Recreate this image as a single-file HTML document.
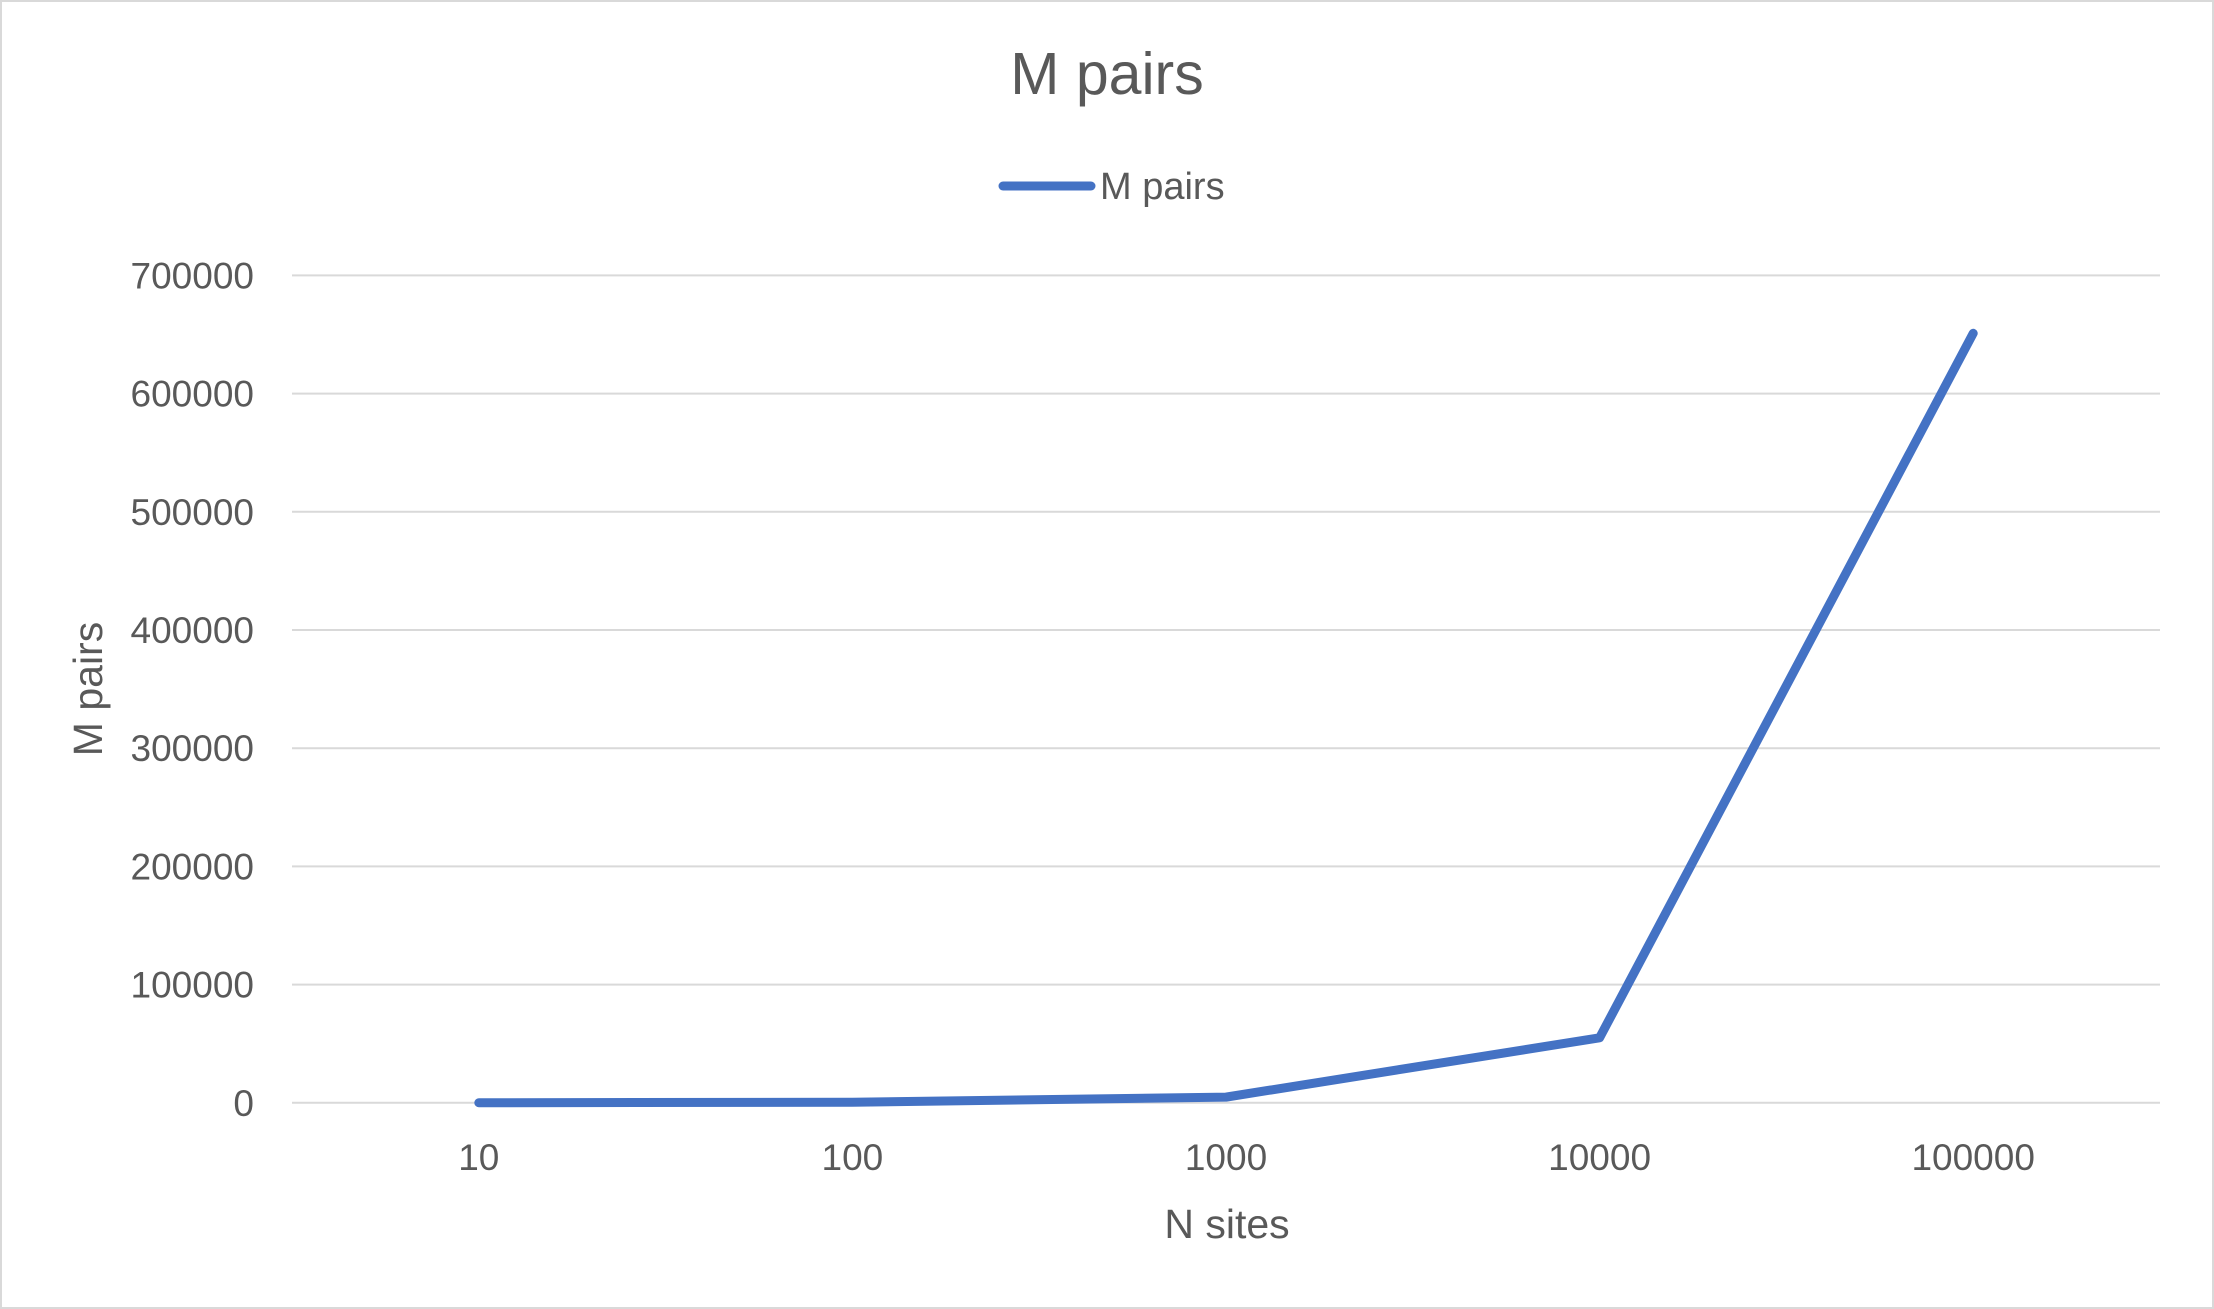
<!DOCTYPE html>
<html>
<head>
<meta charset="utf-8">
<style>
  html,body{margin:0;padding:0;background:#fff;}
  svg{display:block;font-family:"Liberation Sans",sans-serif;}
</style>
</head>
<body>
<svg id="chart" width="2214" height="1309" viewBox="0 0 2214 1309">
  <rect x="1" y="1" width="2212" height="1307" fill="#fff" stroke="#d9d9d9" stroke-width="2"/>
  <text x="1107" y="94" text-anchor="middle" font-size="59" fill="#595959">M pairs</text>
  <g>
    <line x1="1003" y1="186" x2="1091" y2="186" stroke="#4472c4" stroke-width="9" stroke-linecap="round"/>
    <text x="1100" y="199" font-size="38" fill="#595959">M pairs</text>
  </g>
  <g id="grid"></g>
  <g id="yticks"></g>
  <g id="xticks"></g>
  <text transform="translate(102,689) rotate(-90)" text-anchor="middle" font-size="41" fill="#595959">M pairs</text>
  <text x="1227" y="1238" text-anchor="middle" font-size="41" fill="#595959">N sites</text>
  <g id="series"></g>
</svg>
<script>
const categories = ["10","100","1000","10000","100000"];
const seriesValues = [50, 500, 4800, 55000, 651000];
const yTickValues = [0,100000,200000,300000,400000,500000,600000,700000];

const NS = "http://www.w3.org/2000/svg";
const plotLeft = 292, plotRight = 2160, yTop = 275.4, yBottom = 1102.8, yMax = 700000;
function yScale(v){ return yBottom - (v / yMax) * (yBottom - yTop); }
function xScale(i){ const w = (plotRight - plotLeft) / categories.length; return plotLeft + w * (i + 0.5); }

const grid = document.getElementById('grid');
const yt = document.getElementById('yticks');
yTickValues.forEach(v => {
  const l = document.createElementNS(NS,'line');
  l.setAttribute('x1', plotLeft); l.setAttribute('x2', plotRight);
  l.setAttribute('y1', yScale(v)); l.setAttribute('y2', yScale(v));
  l.setAttribute('stroke', '#d9d9d9'); l.setAttribute('stroke-width', '2');
  
  
  grid.appendChild(l);
  const t = document.createElementNS(NS,'text');
  t.setAttribute('x', 254); t.setAttribute('y', yScale(v) + 13);
  t.setAttribute('text-anchor', 'end'); t.setAttribute('font-size', '37'); t.setAttribute('fill', '#595959');
  t.textContent = v;
  
  
  yt.appendChild(t);
});

const xt = document.getElementById('xticks');
categories.forEach((c, i) => {
  const t = document.createElementNS(NS,'text');
  t.setAttribute('x', xScale(i)); t.setAttribute('y', 1170);
  t.setAttribute('text-anchor', 'middle'); t.setAttribute('font-size', '37'); t.setAttribute('fill', '#595959');
  t.textContent = c;
  
  
  xt.appendChild(t);
});

const p = document.createElementNS(NS,'polyline');
p.setAttribute('points', seriesValues.map((v, i) => xScale(i) + ',' + yScale(v)).join(' '));
p.setAttribute('fill', 'none'); p.setAttribute('stroke', '#4472c4');
p.setAttribute('stroke-width', '9'); p.setAttribute('stroke-linejoin', 'round'); p.setAttribute('stroke-linecap', 'round');


document.getElementById('series').appendChild(p);
</script>
</body>
</html>
